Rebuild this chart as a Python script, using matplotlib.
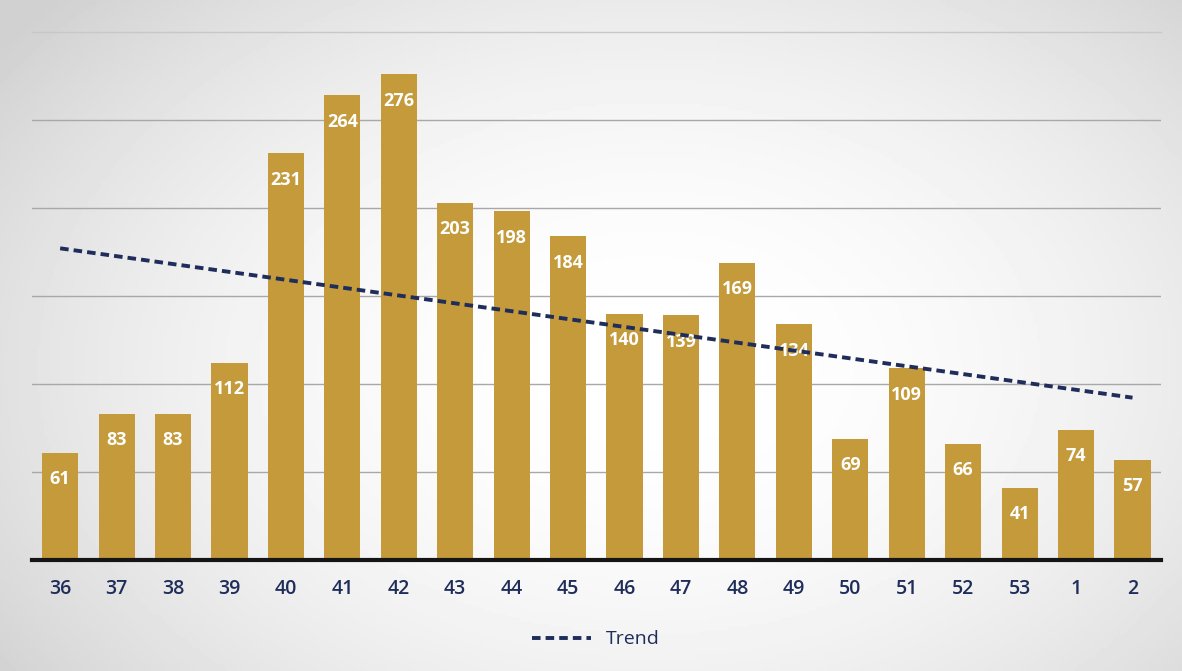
import numpy as np
import matplotlib.pyplot as plt

# weekly counts (week number on x axis)
weeks = ["36", "37", "38", "39", "40", "41", "42", "43", "44", "45",
         "46", "47", "48", "49", "50", "51", "52", "53", "1", "2"]
counts = [61, 83, 83, 112, 231, 264, 276, 203, 198, 184,
          140, 139, 169, 134, 69, 109, 66, 41, 74, 57]

bar_color = "#C49A3A"
navy = "#1F2D5A"

fig = plt.figure(figsize=(11.82, 6.71), dpi=100)

# scanned-paper look: soft grey vignette behind everything
bg = fig.add_axes([0, 0, 1, 1], zorder=-10)
yy, xx = np.mgrid[0:1:200j, 0:1:350j]
r = np.sqrt(((xx - 0.55) / 0.75) ** 2 + ((yy - 0.55) / 0.9) ** 2)
shade = np.clip(1.0 - 0.22 * r ** 2, 0.82, 1.0)
bg.imshow(shade, cmap="gray", vmin=0, vmax=1, aspect="auto", extent=[0, 1, 0, 1])
bg.axis("off")

ax = fig.add_axes([0.027, 0.1654, 0.955, 0.787])
ax.patch.set_alpha(0)

x = np.arange(len(weeks))
bars = ax.bar(x, counts, width=0.64, color=bar_color, zorder=3)

for xi, v in zip(x, counts):
    ax.annotate(str(v), (xi, v), xytext=(0, -19), textcoords="offset points",
                ha="center", va="center", color="white", fontsize=13,
                fontweight="bold", family="Open Sans", zorder=4)

# linear trend
k, b = np.polyfit(x, counts, 1)
ax.plot(x, k * x + b, linestyle=(0, (2.2, 1.3)), color=navy, linewidth=2.8,
        label="Trend", zorder=5)

ax.set_xlim(-0.5, len(weeks) - 0.5)
ax.set_ylim(0, 300)
ax.set_yticks([50, 100, 150, 200, 250])
ax.yaxis.grid(True, color="#a8a8a8", linewidth=1)
# top line is fainter in the scan
ax.axhline(300, color="#c8c8c8", linewidth=1, zorder=0, clip_on=False)
ax.set_axisbelow(True)
ax.tick_params(axis="y", left=False, labelleft=False)
ax.tick_params(axis="x", length=0, pad=14)
ax.set_xticks(x)
ax.set_xticklabels(weeks, fontsize=14, color=navy, family="Open Sans",
                   fontweight="semibold")
for s in ["top", "right", "left"]:
    ax.spines[s].set_visible(False)
ax.spines["bottom"].set_linewidth(3)
ax.spines["bottom"].set_color("#151515")
ax.spines["bottom"].set_zorder(6)

leg = ax.legend(loc="upper center", bbox_to_anchor=(0.5, -0.1), frameon=False,
                handlelength=3.0, prop={"family": "Open Sans", "size": 14})
for t in leg.get_texts():
    t.set_color(navy)

fig.savefig("out.png", dpi=100)
